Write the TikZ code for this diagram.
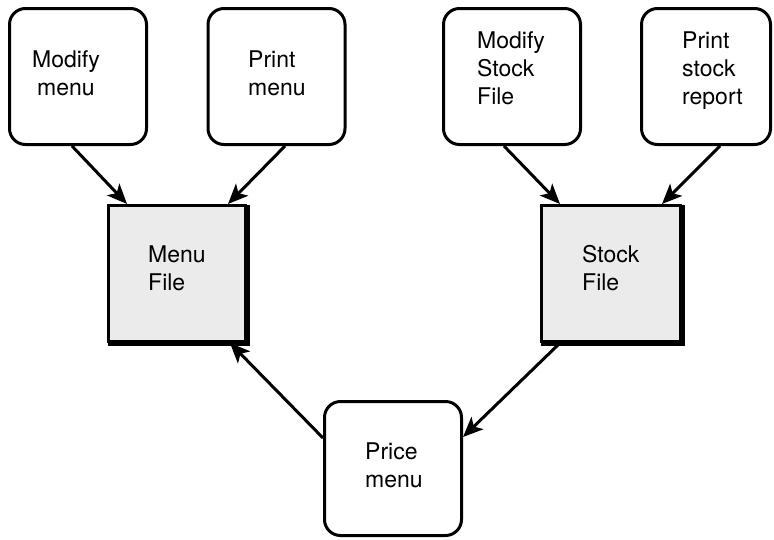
\documentclass[tikz,border=0pt]{standalone}
\usepackage{fontspec}
\setmainfont{TeX Gyre Heros}
\usetikzlibrary{arrows.meta}
\begin{document}
\begin{tikzpicture}[x=1pt,y=1pt,
  proc/.style={draw, line width=3pt, rounded corners=16pt, minimum width=137pt, minimum height=136pt, inner sep=0pt},
  store/.style={draw, line width=3pt, fill=gray!16, minimum width=137pt, minimum height=136pt, inner sep=0pt},
  lbl/.style={anchor=base west, align=left, inner sep=0pt, font=\fontsize{23}{28}\selectfont},
  flow/.style={line width=3pt, -{Stealth[length=20pt,width=17pt,inset=5pt]}},
  heavy/.style={line width=5pt, line join=miter}]
\useasboundingbox (0,0) rectangle (774,-539);
% boxes
\node[proc] (mm) at (78,-76.5) {};
\node[proc] (pm) at (276.5,-76.5) {};
\node[proc] (msf) at (512,-76.5) {};
\node[proc, minimum width=129pt] (psr) at (706,-76.5) {};
\node[store] (mf) at (177,-273.5) {};
\node[store, minimum width=139pt] (sf) at (611,-273.5) {};
\node[proc, minimum height=134pt] (pr) at (393,-468.5) {};
\draw[heavy] ([yshift=-1pt]mf.north east) -- (mf.south east) -- ([xshift=1pt]mf.south west);
\draw[heavy] ([yshift=-1pt]sf.north east) -- (sf.south east) -- ([xshift=1pt]sf.south west);
% labels (base = last line's baseline)
\node[lbl, anchor=base, align=center] (tmm) at (66,-95) {Modify\\menu};
\node[lbl] (tpm) at (248,-95) {Print\\menu};
\node[lbl] (tmsf) at (477,-104) {Modify\\Stock\\File};
\node[lbl] (tpsr) at (682,-104) {Print\\stock\\report};
\node[lbl] (tmf) at (148,-290) {Menu\\File};
\node[lbl] (tsf) at (582,-290) {Stock\\File};
\node[lbl] (tpr) at (365,-487) {Price\\menu};
% connectors
\draw[flow] ([xshift=-6pt]mm.south) -- ([xshift=-50pt]mf.north);
\draw[flow] ([xshift=8.5pt]pm.south) -- ([xshift=51pt]mf.north);
\draw[flow] ([xshift=-8pt]msf.south) -- ([xshift=-51pt]sf.north);
\draw[flow] ([xshift=14pt]psr.south) -- ([xshift=51pt]sf.north);
\draw[flow] ([yshift=30.5pt]pr.west) -- ([xshift=53pt]mf.south);
\draw[flow] ([xshift=-51pt]sf.south) -- ([yshift=31.5pt]pr.east);
\end{tikzpicture}
\end{document}
